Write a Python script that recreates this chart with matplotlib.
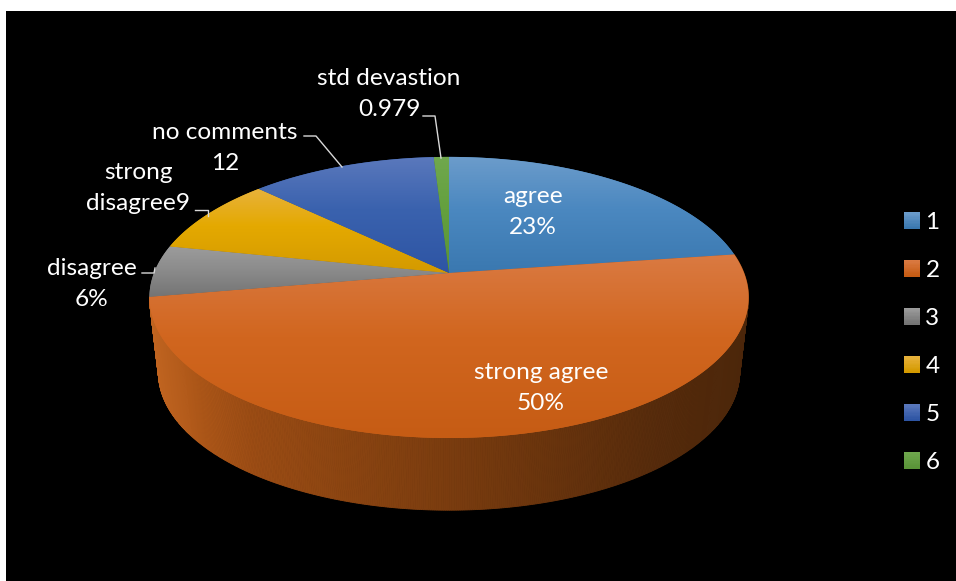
import numpy as np
import matplotlib
matplotlib.use("Agg")
import matplotlib.pyplot as plt
from matplotlib.patches import Polygon, Rectangle, Patch
from matplotlib.legend_handler import HandlerBase

# ---------- data ----------
legend_labels = ["1", "2", "3", "4", "5", "6"]
values = [23, 50, 6, 9, 12, 0.979]
slice_labels = ["agree\n23%", "strong agree\n50%", "disagree\n6%",
                "strong\ndisagree9", "no comments\n12", "std devastion\n0.979"]
tops = ["#6C9CCB", "#DA7A42", "#9C9C9C", "#E8B23C", "#5A78BC", "#70A84E"]
mids = ["#4B88C0", "#D1661F", "#8C8C8C", "#E4A900", "#3A62AE", "#64A03E"]
bots = ["#3A78B0", "#C65C14", "#747474", "#D49A00", "#2E55A4", "#5A9438"]
side_x = [149, 200, 250, 350, 450, 550, 650, 750]
side_rgb = [(192, 100, 32), (172, 86, 24), (155, 76, 20), (138, 68, 17), (122, 60, 15),
            (105, 52, 13), (88, 44, 12), (75, 38, 10)]

# ---------- layout ----------
W, H = 956, 581
CX, CY, B, A, K = 449, 273, 295, 136.3, 0.174
DROP, SHRINK_X, SHRINK_Y, RIM_CY = 75, 0.97, 0.98, 297
FONT = "Lato"
FS = 17.6

fig = plt.figure(figsize=(W / 100, H / 100), dpi=100, facecolor="white")
ax = fig.add_axes([0, 0, 1, 1])
ax.set_xlim(0, W)
ax.set_ylim(H, 0)
ax.axis("off")
ax.add_patch(Rectangle((6, 11), W - 6, H - 11, fc="black", ec="none", zorder=0))


def rim(frac):
    """Project a position on the pie's circle (fraction clockwise from the top)."""
    t = np.asarray(frac) * 2 * np.pi
    u, v = np.sin(t), np.cos(t)
    w = 1 + K * v
    return CX + B * u / w, CY - A * v / w


def rgb(c):
    return np.array(matplotlib.colors.to_rgb(c))


fracs = np.concatenate([[0], np.cumsum(values)]) / np.sum(values)

# side wall of the orange slice
f0, f1 = fracs[1], fracs[2]
fs = np.linspace(f0, f1, 500)
xt, yt = rim(fs)
xb = CX + (xt - CX) * SHRINK_X
yb = RIM_CY + DROP + (yt - RIM_CY) * SHRINK_Y
sx = np.array(side_x)
sc = np.array(side_rgb) / 255
# left silhouette to the rim's widest point
ax.add_patch(Polygon([(xt[-1], yt[-1]), (xb[-1], yb[-1]), (xt[-1] + 30, yb[-1]), (xt[-1] + 30, yt[-1])],
                     closed=True, fc=sc[0], ec="none", zorder=0.9))
for i in range(len(fs) - 1):
    xm = (xt[i] + xt[i + 1]) / 2
    col = [np.interp(xm, sx, sc[:, k]) for k in range(3)]
    ax.add_patch(Polygon([(xt[i], yt[i]), (xt[i + 1], yt[i + 1]),
                          (xb[i + 1], yb[i + 1]), (xb[i], yb[i])],
                         closed=True, fc=col, ec=col, lw=0.6, zorder=1))

# top faces
for i in range(len(values)):
    fs = np.linspace(fracs[i], fracs[i + 1], max(int(values[i] * 8), 6))
    x, y = rim(fs)
    pts = np.vstack([[CX, CY], np.column_stack([x, y])])
    poly = Polygon(pts, closed=True, fc=mids[i], ec="none", zorder=2)
    ax.add_patch(poly)
    y0, y1 = pts[:, 1].min(), pts[:, 1].max()
    n = 128
    s = np.linspace(0, 1, n)[:, None]
    lo, mi, hi = rgb(tops[i]), rgb(mids[i]), rgb(bots[i])
    grad = np.where(s < 0.45, lo + (mi - lo) * (s / 0.45), mi + (hi - mi) * ((s - 0.45) / 0.55))
    im = ax.imshow(grad[:, None, :], extent=(pts[:, 0].min(), pts[:, 0].max(), y1, y0),
                   aspect="auto", zorder=2.1, interpolation="bilinear")
    im.set_clip_path(poly)
ax.set_xlim(0, W)
ax.set_ylim(H, 0)

# labels
label_xy = [(533, 212), (541, 388), (92, 284), (138, 188), (225, 148), (389, 94)]
for (lx, ly), txt in zip(label_xy, slice_labels):
    ax.text(lx, ly, txt, color="white", fontsize=FS, family=FONT, ha="center",
            va="center", linespacing=1.6, zorder=5)

# leader lines
leaders = [[(142, 273), (154, 273), (155, 268)],
           [(195, 210), (208, 210), (208, 216)],
           [(304, 136), (316, 136), (342, 167)],
           [(423, 116), (435, 116), (441, 158)]]
for ln in leaders:
    ax.plot(*zip(*ln), color="#D9D9D9", lw=1.0, zorder=4)


class GradHandler(HandlerBase):
    def create_artists(self, legend, orig, xd, yd, width, height, fontsize, trans):
        i = int(orig.get_label())-1
        out = []
        for k in range(12):
            s = k / 11
            c = rgb(tops[i]) + (rgb(bots[i]) - rgb(tops[i])) * s
            out.append(Rectangle((xd * -1, -yd + height * (1 - (k + 1) / 12)), width, height / 12 + 0.3,
                                 fc=c, ec="none", transform=trans))
        return out


handles = [Patch(fc=m, label=l) for m, l in zip(mids, legend_labels)]
leg = ax.legend(handles=handles, loc="upper left", bbox_to_anchor=(904 / W, 1 - 212 / H),
                frameon=False, prop={"family": FONT, "size": 17.5}, labelcolor="white",
                handlelength=0.66, handleheight=0.66, handletextpad=0.22, labelspacing=1.11,
                borderpad=0, borderaxespad=0, handler_map={Patch: GradHandler()})
leg.set_zorder(6)

fig.savefig("out.png", dpi=100, facecolor="white")
